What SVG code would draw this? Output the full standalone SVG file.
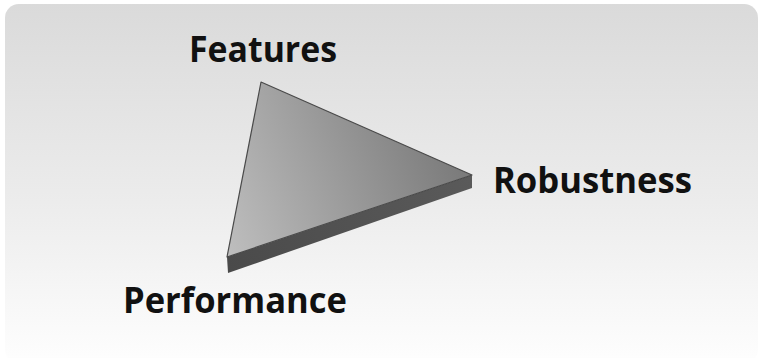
<svg xmlns="http://www.w3.org/2000/svg" width="765" height="358" viewBox="0 0 765 358">
  <defs>
    <linearGradient id="bg" x1="0" y1="0" x2="0" y2="1">
      <stop offset="0" stop-color="#dadada"/>
      <stop offset="0.55" stop-color="#ececec"/>
      <stop offset="1" stop-color="#fefefe"/>
    </linearGradient>
    <linearGradient id="face" gradientUnits="userSpaceOnUse" x1="230" y1="250" x2="470" y2="150">
      <stop offset="0" stop-color="#bdbdbd"/>
      <stop offset="1" stop-color="#777777"/>
    </linearGradient>
    <linearGradient id="side" gradientUnits="userSpaceOnUse" x1="227" y1="265" x2="472" y2="182">
      <stop offset="0" stop-color="#4a4a4a"/>
      <stop offset="1" stop-color="#5a5a5a"/>
    </linearGradient>
    <style>
      .lbl { font-family: "Open Sans", "Liberation Sans", Arial, sans-serif; font-weight: bold; font-size: 36px; fill: #111; }
    </style>
  </defs>
  <rect x="0" y="0" width="765" height="358" fill="#ffffff"/>
  <rect x="5" y="4" width="753" height="360" rx="14" fill="url(#bg)"/>
  <g id="triangle">
    <polygon points="227,257 472,175 472,188 228,273" fill="url(#side)"/>
    <polygon points="261,82 472,175 227,257" fill="url(#face)" stroke="#4a4a4a" stroke-width="1.2" stroke-linejoin="round"/>
  </g>
  <g id="features">
    <text class="lbl" x="189" y="62" textLength="148" lengthAdjust="spacingAndGlyphs">Features</text>
  </g>
  <g id="robustness">
    <text class="lbl" x="493" y="193" textLength="199" lengthAdjust="spacingAndGlyphs">Robustness</text>
  </g>
  <g id="performance">
    <text class="lbl" x="123" y="313" textLength="224" lengthAdjust="spacingAndGlyphs">Performance</text>
  </g>
</svg>
